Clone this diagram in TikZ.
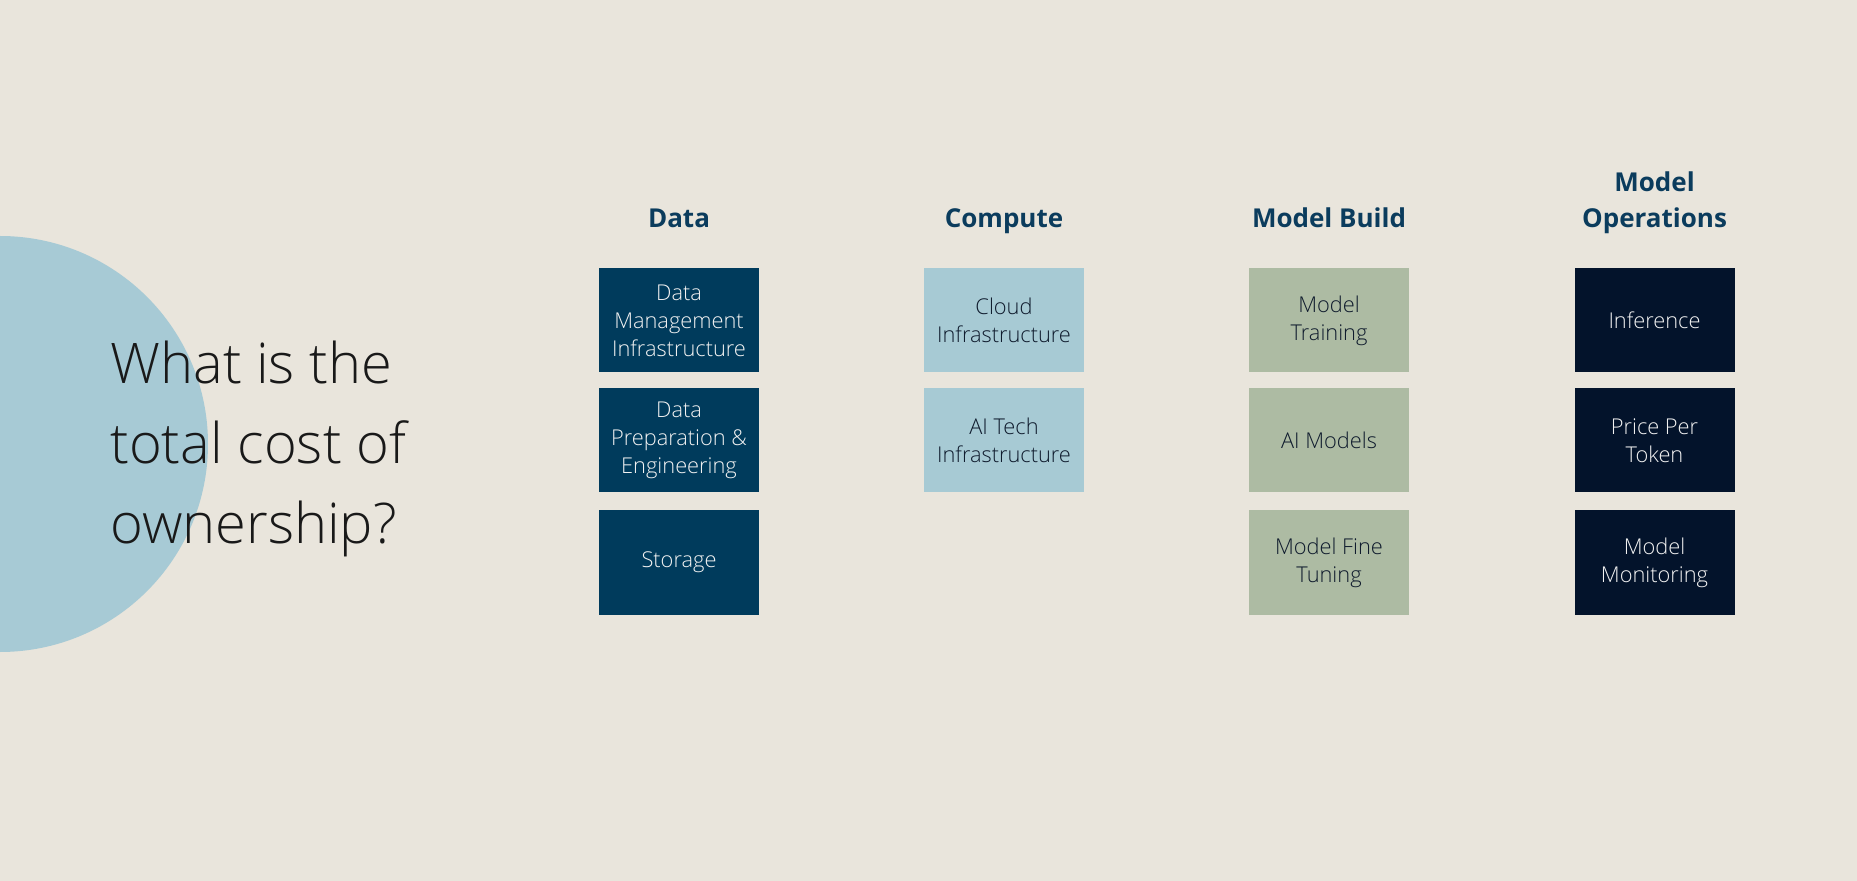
\documentclass[tikz,border=0pt]{standalone}
\usepackage{fontspec}
\setmainfont{Open Sans}
\newfontfamily\lightfont{Open Sans Light}
\definecolor{bgbeige}{HTML}{E9E5DC}
\definecolor{circleblue}{HTML}{A7CAD5}
\definecolor{datanavy}{HTML}{003B5C}
\definecolor{computeblue}{HTML}{A7CAD4}
\definecolor{buildsage}{HTML}{ADBBA3}
\definecolor{opsnavy}{HTML}{03132B}
\definecolor{headteal}{HTML}{0B3C5D}
\definecolor{textdark}{HTML}{0F1B2D}
\definecolor{textlight}{HTML}{F2F2F2}
\tikzset{
  heading/.style={font=\bfseries\fontsize{13}{18}\selectfont, text=headteal, align=center},
  costbox/.style={minimum width=80pt, minimum height=52pt, align=center, font=\lightfont\fontsize{10.9}{14}\selectfont}
}
\begin{document}
\begin{tikzpicture}[x=0.5pt, y=-0.5pt, every node/.style={inner sep=0pt}]
\useasboundingbox (0,0) rectangle (1857,881);
\fill[bgbeige] (0,0) rectangle (1857,881);
\fill[circleblue] (0,444) circle[radius=208];
\node[font=\lightfont\fontsize{28}{40}\selectfont, align=left, anchor=west, text=black!90] (question) at (110,449) {What is the\\total cost of\\ownership?};
\foreach \x/\name/\txt in {679/hdata/Data,1004/hcompute/Compute,1329/hbuild/Model Build,1654.5/hops/Model\\Operations}
  \node[heading, anchor=base] (\name) at (\x,228) {\txt};
\foreach \x/\y/\col/\fg/\name/\txt in {679/320.5/datanavy/textlight/dmgmt/Data\\Management\\Infrastructure,679/440.5/datanavy/textlight/dprep/Data\\Preparation \&\\Engineering,679/562.5/datanavy/textlight/dstore/Storage,1004/320.5/computeblue/textdark/ccloud/Cloud\\Infrastructure,1004/440.5/computeblue/textdark/caitech/AI Tech\\Infrastructure,1329/320.5/buildsage/textdark/btrain/Model\\Training,1329/440.5/buildsage/textdark/bmodels/AI Models,1329/562.5/buildsage/textdark/bfine/Model Fine\\Tuning,1654.5/320.5/opsnavy/textlight/oinfer/Inference,1654.5/440.5/opsnavy/textlight/oprice/Price Per\\Token,1654.5/562.5/opsnavy/textlight/omon/Model\\Monitoring}
  \node[costbox, fill=\col, text=\fg] (\name) at (\x,\y) {\txt};
\end{tikzpicture}
\end{document}
